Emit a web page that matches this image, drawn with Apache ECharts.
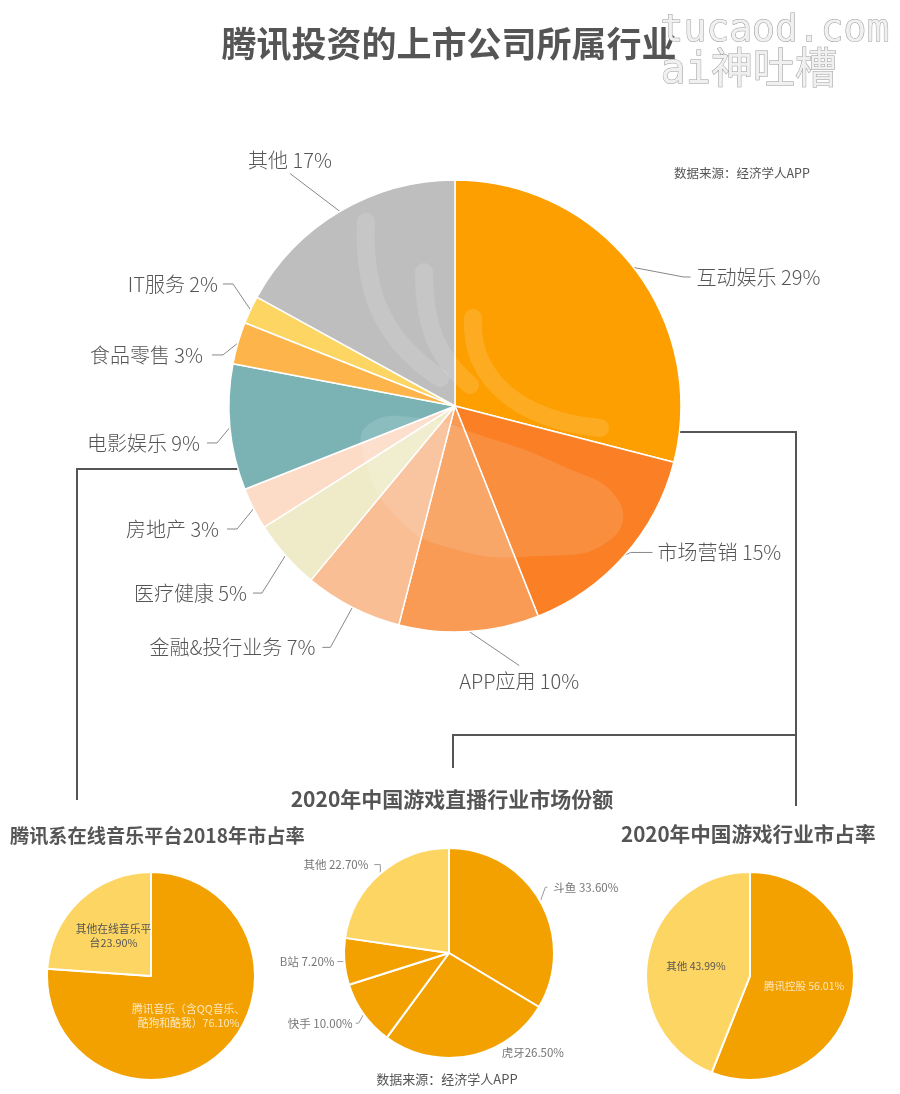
<!DOCTYPE html>
<html><head><meta charset="utf-8">
<script src="https://cdn.jsdelivr.net/npm/echarts@6/dist/echarts.min.js"></script>
<style>html,body{margin:0;padding:0;background:#fff}#c{width:900px;height:1094px}</style>
</head><body><div id="c"></div>
<script>
// ---- data ----
const mainCats = ['互动娱乐','市场营销','APP应用','金融&投行业务','医疗健康','房地产','电影娱乐','食品零售','IT服务','其他'];
const mainVals = [29,15,10,7,5,3,9,3,2,17];
const mainColors = ['#FD9F01','#FA7F25','#F99A55','#F9BE93','#EFEBC9','#FCDBC7','#7BB3B5','#FDB44B','#FDD562','#BEBEBE'];

const musicCats = ['腾讯音乐（含QQ音乐、酷狗和酷我）','其他在线音乐平台'];
const musicVals = [76.10, 23.90];

const liveCats = ['斗鱼','虎牙','快手','B站','其他'];
const liveVals = [33.60, 26.50, 10.00, 7.20, 22.70];

const gameCats = ['腾讯控股','其他'];
const gameVals = [56.01, 43.99];

const ORANGE = '#F2A100', YELLOW = '#FDD563';
const FONT = '"Noto Sans CJK SC","Microsoft YaHei",sans-serif';

// label placement (style): [dx to elbow, dy to elbow, horizontal tail, align, verticalAlign, gap]
const mainLabelCfg = [
  [50, 9.5, 7, 'left','middle', 6],
  [6, -3, 22, 'left','middle', 5],
  [50, 34, 0, 'center','top', 6],
  [-22, 40, -8, 'right','middle', 7],
  [-23.5, 37.6, -9, 'right','middle', 6],
  [-16.6, 20.4, -10, 'right','middle', 8],
  [-13, 15.7, -10, 'right','middle', 7],
  [-15, 12, -11, 'right','middle', 9],
  [-17.5, -25.8, -10, 'right','middle', 5],
  [-50, -38, 0, 'center','bottom', 3]
];
const liveLabelCfg = [
  [5, -14, 2, 'left','middle', 6],
  [28, -3, 0, 'left','middle', 4],
  [-5, 9, -3, 'right','middle', 3],
  [-3, 0, -4, 'right','middle', 3],
  [0, -9, -6, 'right','middle', 6]
];
function layoutFrom(cfg){
  return p => {
    const c = cfg[p.dataIndex];
    if (!c || !p.labelLinePoints) return {};
    const s = p.labelLinePoints[0];
    const e = [s[0]+c[0], s[1]+c[1]];
    const f = [e[0]+c[2], e[1]];
    let x = f[0], y = f[1];
    if (c[3]==='left') x += c[5];
    else if (c[3]==='right') x -= c[5];
    else y += (c[4]==='top' ? c[5] : -c[5]);
    return {x, y, align:c[3], verticalAlign:c[4], labelLinePoints:[s, e, f]};
  };
}

const chart = echarts.init(document.getElementById('c'));
const mk = (cats, vals, colors) => cats.map((n,i)=>({name:n, value:vals[i], itemStyle:{color:colors[i]}}));
const swirl = (x1,y1,c1x,c1y,c2x,c2y,x2,y2) => ({type:'bezierCurve', z:10, silent:true,
  shape:{x1,y1,cpx1:c1x,cpy1:c1y,cpx2:c2x,cpy2:c2y,x2,y2},
  style:{fill:null, stroke:'rgba(255,255,255,0.13)', lineWidth:18, lineCap:'round'}});

const option = {
  backgroundColor:'#fff',
  textStyle:{fontFamily:FONT},
  title:[
    {text:'腾讯投资的上市公司所属行业', left:444, top:21, textAlign:'center',
     textStyle:{fontSize:35, fontWeight:'bold', color:'#555', fontFamily:FONT}},
    {text:'数据来源：经济学人APP', left:669, top:162,
     textStyle:{fontSize:12.5, fontWeight:'normal', color:'#555', fontFamily:FONT}},
    {text:'2020年中国游戏直播行业市场份额', left:447, top:784, textAlign:'center',
     textStyle:{fontSize:21, fontWeight:'bold', color:'#555', fontFamily:FONT}},
    {text:'腾讯系在线音乐平台2018年市占率', left:5, top:821,
     textStyle:{fontSize:19.2, fontWeight:'bold', color:'#555', fontFamily:FONT}},
    {text:'2020年中国游戏行业市占率', left:616, top:819,
     textStyle:{fontSize:20.6, fontWeight:'bold', color:'#555', fontFamily:FONT}},
    {text:'数据来源：经济学人APP', left:442, top:1068, textAlign:'center',
     textStyle:{fontSize:13, fontWeight:'normal', color:'#555', fontFamily:FONT}}
  ],
  series:[
    {
      type:'pie', center:[455,406], radius:[0,226], startAngle:90, clockwise:true,
      animation:false, z:2,
      itemStyle:{borderColor:'#fff', borderWidth:1.5},
      label:{show:true, position:'outside', color:'#555', fontSize:20, fontWeight:300, fontFamily:FONT,
        formatter:p=>p.name+' '+p.value+'%'},
      labelLine:{show:true, length:14, length2:18, lineStyle:{color:'#888', width:1}},
      labelLayout: layoutFrom(mainLabelCfg),
      data: mk(mainCats, mainVals, mainColors)
    },
    {
      type:'pie', center:[151,976], radius:[0,104], startAngle:90, animation:false,
      itemStyle:{borderColor:'#fff', borderWidth:2},
      label:{show:true, position:'inside', fontSize:10.8, fontFamily:FONT, lineHeight:14,
        formatter:p=>{
          const t = p.name + p.value.toFixed(2) + '%';
          const cut = p.dataIndex===0 ? 11 : 7;
          return t.slice(0,cut)+'\n'+t.slice(cut);
        }},
      data: mk(musicCats, musicVals, [ORANGE, YELLOW]).map((d,i)=>{
        d.label={color: i===0 ? '#FCE7BE' : '#555'}; return d;})
    },
    {
      type:'pie', center:[449,953], radius:[0,105], startAngle:90, animation:false,
      itemStyle:{borderColor:'#fff', borderWidth:2},
      label:{show:true, position:'outside', fontSize:11.5, color:'#777', fontFamily:FONT,
        formatter:p=>p.name+(p.name==='虎牙'?'':' ')+p.value.toFixed(2)+'%'},
      labelLine:{show:true, length:4, length2:6, lineStyle:{color:'#999', width:1}},
      labelLayout: layoutFrom(liveLabelCfg),
      data: mk(liveCats, liveVals, [ORANGE,ORANGE,ORANGE,ORANGE,YELLOW]).map(d=>{
        if (d.name==='虎牙') d.labelLine={lineStyle:{opacity:0}}; return d;})
    },
    {
      type:'pie', center:[750,976], radius:[0,104], startAngle:90, animation:false,
      itemStyle:{borderColor:'#fff', borderWidth:2},
      label:{show:true, position:'inside', fontSize:10.5, fontFamily:FONT,
        formatter:p=>p.name+' '+p.value.toFixed(2)+'%'},
      data: mk(gameCats, gameVals, [ORANGE, YELLOW]).map((d,i)=>{
        d.label={color: i===0 ? '#FCE7BE' : '#555'}; return d;})
    }
  ],
  graphic:[
    swirl(366,222, 362,300, 390,345, 440,378),
    swirl(424,272, 424,330, 440,360, 470,385),
    swirl(473,318, 470,380, 520,420, 600,428),
    {type:'polygon', z:10, silent:true,
     shape:{smooth:0.5, points:[[368,425],[420,418],[480,435],[560,465],[618,500],[610,540],[540,556],[450,548],[395,515],[365,460]]},
     style:{fill:'rgba(255,255,255,0.12)', stroke:null}},
    // connector lines
    {type:'polyline', z:1, shape:{points:[[679,432],[796,432],[796,806]]}, style:{stroke:'#555', lineWidth:2, fill:null}},
    {type:'polyline', z:1, shape:{points:[[453,768],[453,735],[796,735]]}, style:{stroke:'#555', lineWidth:2, fill:null}},
    {type:'polyline', z:1, shape:{points:[[77,800],[77,469],[240,469]]}, style:{stroke:'#555', lineWidth:2, fill:null}},
    // watermark
    {type:'text', z:20, left:660, top:12, style:{text:'tucaod.com', font:'38px "DejaVu Sans Mono"', fill:'#f0f0f0', stroke:'#999', lineWidth:1}},
    {type:'text', z:20, left:660, top:51, style:{text:'ai神吐槽', font:'42px "DejaVu Sans Mono","Noto Sans CJK SC"', fill:'#f0f0f0', stroke:'#999', lineWidth:1}}
  ]
};
chart.setOption(option);
</script></body></html>
